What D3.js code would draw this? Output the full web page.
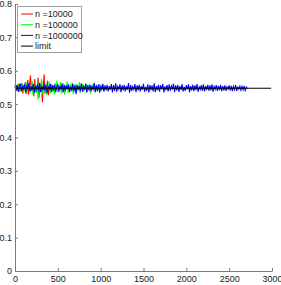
<!DOCTYPE html>
<html><head><meta charset="utf-8">
<script src="https://cdn.jsdelivr.net/npm/d3@7"></script>
<style>body{margin:0;background:#fff}svg{display:block}text{font-family:"Liberation Sans",Arial,sans-serif}</style>
</head><body><svg id="c" width="281" height="285"></svg>
<script>
const xTicks = [0,500,1000,1500,2000,2500,3000];
const yTicks = [0,0.1,0.2,0.3,0.4,0.5,0.6,0.7,0.8];
const seriesNames = ["n =10000","n =100000","n =1000000","limit"];
const seriesColors = ["#ff0000","#00ff00","#0000ff","#000000"];
const redStep = 10, greenStep = 10, blueStep = 12.5;
const redVals = [.552,.541,.556,.545,.560,.538,.551,.547,.563,.533,.557,.544,.566,.530,.549,.572,.528,.555,.586,.540,.548,.561,.524,.575,.537,.553,.545,.579,.519,.558,.547,.568,.506,.552,.589,.531,.556,.541,.570,.527,.550,.560,.536,.548];
const greenVals = [.551,.543,.556,.540,.549,.562,.537,.553,.546,.560,.534,.552,.548,.565,.531,.556,.544,.559,.536,.550,.570,.528,.553,.547,.561,.533,.557,.514,.566,.541,.552,.575,.530,.549,.558,.538,.563,.527,.554,.545,.568,.532,.551,.560,.536,.557,.529,.563,.542,.571,.535,.553,.546,.566,.531,.558,.540,.562,.529,.555,.548,.568,.534,.552,.544,.560,.537,.564,.530,.556,.546,.561,.535,.553,.542,.566,.533,.558,.545,.560,.538,.554,.543,.563,.536,.551,.547,.559,.532,.556,.544,.561,.539,.553,.546,.558,.537,.552,.545,.560,.540,.554,.547,.556,.542,.550];
const blueVals = [.556,.540,.558,.537,.552,.561,.539,.554,.543,.559,
.535,.556,.546,.562,.538,.553,.541,.560,.534,.555,
.544,.558,.539,.563,.536,.552,.542,.559,.540,.557,
.533,.554,.545,.561,.538,.556,.541,.558,.536,.551,
.560,.537,.555,.543,.562,.535,.557,.540,.556,.544,
.559,.536,.552,.541,.561,.538,.556,.530,.558,.543,
.554,.539,.562,.537,.553,.545,.560,.535,.557,.541,
.558,.538,.554,.543,.563,.536,.556,.540,.559,.534,
.552,.544,.561,.537,.556,.541,.558,.538,.554,.543,
.560,.535,.557,.540,.562,.537,.553,.545,.559,.536,
.556,.541,.558,.538,.554,.543,.563,.534,.557,.540,
.553,.544,.560,.536,.556,.541,.558,.538,.554,.543,
.561,.537,.552,.540,.559,.535,.557,.542,.556,.538,
.562,.536,.554,.541,.558,.537,.556,.544,.560,.535,
.553,.542,.557,.538,.559,.540,.554,.544,.561,.536,
.556,.541,.558,.537,.554,.543,.560,.538,.552,.540,
.557,.544,.559,.536,.554,.541,.558,.539,.556,.542,
.560,.537,.552,.544,.557,.540,.559,.538,.554,.543,
.558,.540,.556,.541,.559,.537,.553,.544,.557,.540,
.555,.542,.558,.539,.554,.541,.556,.540,.552,.545,
.556,.541,.555,.539,.553,.543,.557,.540,.551,.545,
.554,.542,.553,.543,.555,.541,.551,.546];
const limitX = [0, 2990];
const limitVal = 0.5476;

const svg = d3.select("#c");
const x = d3.scaleLinear().domain([0,3000]).range([15,272]);
const y = d3.scaleLinear().domain([0,0.8]).range([271,4]);
const axisColor = "#7a7a7a", textColor = "#1a1a1a";

const toPts = (vals, step) => vals.map((v,i)=>[i*step, v]);
const line = d3.line().x(d=>x(d[0])).y(d=>y(d[1]));
const data = [toPts(redVals,redStep), toPts(greenVals,greenStep), toPts(blueVals,blueStep)];
data.forEach((d,i)=>{
  svg.append("path").datum(d).attr("d",line).attr("fill","none")
    .attr("stroke",seriesColors[i]).attr("stroke-width",1.1);
});
svg.append("path").datum(limitX.map(v=>[v,limitVal])).attr("d",line)
  .attr("fill","none").attr("stroke","#000").attr("stroke-width",1);

const gx = svg.append("g").attr("transform","translate(0,271)")
  .call(d3.axisBottom(x).tickValues(xTicks).tickSizeInner(-3).tickSizeOuter(0).tickPadding(5).tickFormat(d3.format("d")));
const gy = svg.append("g").attr("transform","translate(15,0)")
  .call(d3.axisLeft(y).tickValues(yTicks).tickSizeInner(-3).tickSizeOuter(0).tickPadding(3).tickFormat(d=>d===0?"0":d3.format(".1f")(d)));
[gx,gy].forEach(g=>{
  g.select(".domain").attr("stroke",axisColor);
  g.selectAll(".tick line").attr("stroke",axisColor);
  g.selectAll("text").attr("fill",textColor).style("font-size","9px").style("font-family","'Liberation Sans',Arial,sans-serif");
});

// legend
const lg = svg.append("g");
lg.append("rect").attr("x",17.5).attr("y",6.5).attr("width",64).attr("height",46)
  .attr("fill","#fff").attr("stroke","#a0a0a0").attr("stroke-width",1);
seriesNames.forEach((n,i)=>{
  const yy = 14 + i*10.7;
  lg.append("line").attr("x1",21).attr("x2",33).attr("y1",yy).attr("y2",yy)
    .attr("stroke",seriesColors[i]).attr("stroke-width",1);
  lg.append("text").attr("x",35).attr("y",yy).attr("dy","0.35em")
    .attr("fill",textColor).style("font-size","9px").text(n);
});
</script></body></html>
